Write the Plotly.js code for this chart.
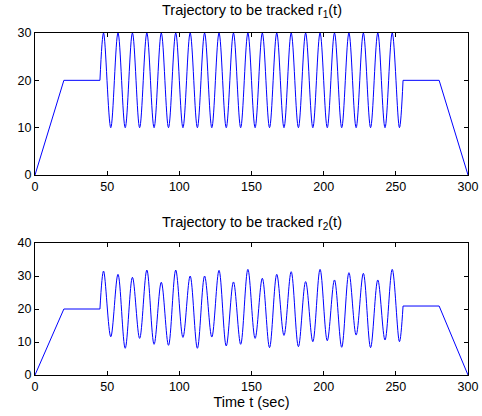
<!DOCTYPE html>
<html>
<head>
<meta charset="utf-8">
<script src="https://cdn.plot.ly/plotly-3.0.1.min.js"></script>
<style>html,body{margin:0;padding:0;background:#fff;}#chart{width:482px;height:416px;}</style>
</head>
<body>
<div id="chart"></div>
<script>
// ---- data ----
// piecewise-linear parts (ramp / plateau) of r1
const r1_lin_t_start = [0, 20, 45];
const r1_lin_y_start = [0, 20, 20];
const r1_lin_t_end = [255, 280, 300];
const r1_lin_y_end = [20, 20, 0];
// oscillating part: start point, alternating peaks/troughs, end point
const osc_t = [45, 47.5, 52.5, 57.5, 62.5, 67.5, 72.5, 77.5, 82.5, 87.5, 92.5, 97.5, 102.5,
  107.5, 112.5, 117.5, 122.5, 127.5, 132.5, 137.5, 142.5, 147.5, 152.5, 157.5, 162.5,
  167.5, 172.5, 177.5, 182.5, 187.5, 192.5, 197.5, 202.5, 207.5, 212.5, 217.5, 222.5,
  227.5, 232.5, 237.5, 242.5, 247.5, 252.5, 255];
const r1_osc_y = [20, 30, 10, 30, 10, 30, 10, 30, 10, 30, 10, 30, 10,
  30, 10, 30, 10, 30, 10, 30, 10, 30, 10, 30, 10,
  30, 10, 30, 10, 30, 10, 30, 10, 30, 10, 30, 10,
  30, 10, 30, 10, 30, 10, 20];
// r2
const r2_lin_t_start = [0, 20, 45];
const r2_lin_y_start = [0, 20, 20];
const r2_lin_t_end = [255, 280, 300];
const r2_lin_y_end = [20.9, 20.9, 0];
const r2_osc_y = [20, 31.5, 11.6, 30.5, 8.1, 29.6, 11.1, 31.8, 9.3, 28.1, 9.0, 31.8, 11.4,
  30.0, 8.1, 30.0, 11.5, 31.7, 8.8, 28.2, 9.3, 32.0, 11.1, 29.3, 8.3,
  30.5, 12.0, 31.3, 8.6, 28.3, 10.1, 32.0, 10.4, 28.8, 8.4, 31.0, 12.1,
  30.8, 8.3, 28.8, 10.6, 32.0, 10.1, 20.9];

const xTicks = [0, 50, 100, 150, 200, 250, 300];
const y1Ticks = [0, 10, 20, 30];
const y2Ticks = [0, 10, 20, 30, 40];
const title1 = 'Trajectory to be tracked r<sub>1</sub>(t)';
const title2 = 'Trajectory to be tracked r<sub>2</sub>(t)';
const xLabel = 'Time t (sec)';

// ---- drawing ----
const blue = 'rgb(0,0,255)';
const lin = {color: blue, width: 1, shape: 'linear'};
const spl = {color: blue, width: 1, shape: 'spline', smoothing: 1};
const traces = [
  {x: r1_lin_t_start, y: r1_lin_y_start, mode: 'lines', line: lin, xaxis: 'x', yaxis: 'y'},
  {x: osc_t, y: r1_osc_y, mode: 'lines', line: spl, xaxis: 'x', yaxis: 'y'},
  {x: r1_lin_t_end, y: r1_lin_y_end, mode: 'lines', line: lin, xaxis: 'x', yaxis: 'y'},
  {x: r2_lin_t_start, y: r2_lin_y_start, mode: 'lines', line: lin, xaxis: 'x2', yaxis: 'y2'},
  {x: osc_t, y: r2_osc_y, mode: 'lines', line: spl, xaxis: 'x2', yaxis: 'y2'},
  {x: r2_lin_t_end, y: r2_lin_y_end, mode: 'lines', line: lin, xaxis: 'x2', yaxis: 'y2'}
];
const fam = '"Liberation Sans", Arial, Helvetica, sans-serif';
const tickFont = {family: fam, size: 12.5, color: '#000'};
const textFont = {family: fam, size: 14.5, color: '#000'};
const axBase = {
  showline: true, mirror: 'allticks', linecolor: '#000', linewidth: 1,
  ticks: 'inside', ticklen: 4, tickwidth: 1, tickcolor: '#000',
  showgrid: false, zeroline: false, tickfont: tickFont, fixedrange: true
};
const H = 416, mt = 33, mb = 41;
const ph = H - mt - mb;
const layout = {
  width: 482, height: 416,
  margin: {l: 35, r: 14, t: mt, b: mb, pad: 0},
  paper_bgcolor: '#fff', plot_bgcolor: '#fff',
  showlegend: false,
  font: tickFont,
  xaxis: Object.assign({}, axBase, {domain: [0, 1], range: [0, 300], tickvals: xTicks, anchor: 'y'}),
  yaxis: Object.assign({}, axBase, {domain: [(375 - 175) / ph, 1], range: [0, 30], tickvals: y1Ticks, anchor: 'x'}),
  xaxis2: Object.assign({}, axBase, {domain: [0, 1], range: [0, 300], tickvals: xTicks, anchor: 'y2',
    title: {text: xLabel, font: textFont, standoff: 2}}),
  yaxis2: Object.assign({}, axBase, {domain: [0, (375 - 243) / ph], range: [0, 40], tickvals: y2Ticks, anchor: 'x2'}),
  annotations: [
    {text: title1, xref: 'paper', yref: 'paper', x: 0.5, y: 1, yshift: 11, xanchor: 'center', yanchor: 'bottom', showarrow: false, font: textFont},
    {text: title2, xref: 'paper', yref: 'paper', x: 0.5, y: (375 - 243) / ph, yshift: 9, xanchor: 'center', yanchor: 'bottom', showarrow: false, font: textFont}
  ]
};
Plotly.newPlot('chart', traces, layout, {staticPlot: true, displayModeBar: false});
</script>
</body>
</html>
